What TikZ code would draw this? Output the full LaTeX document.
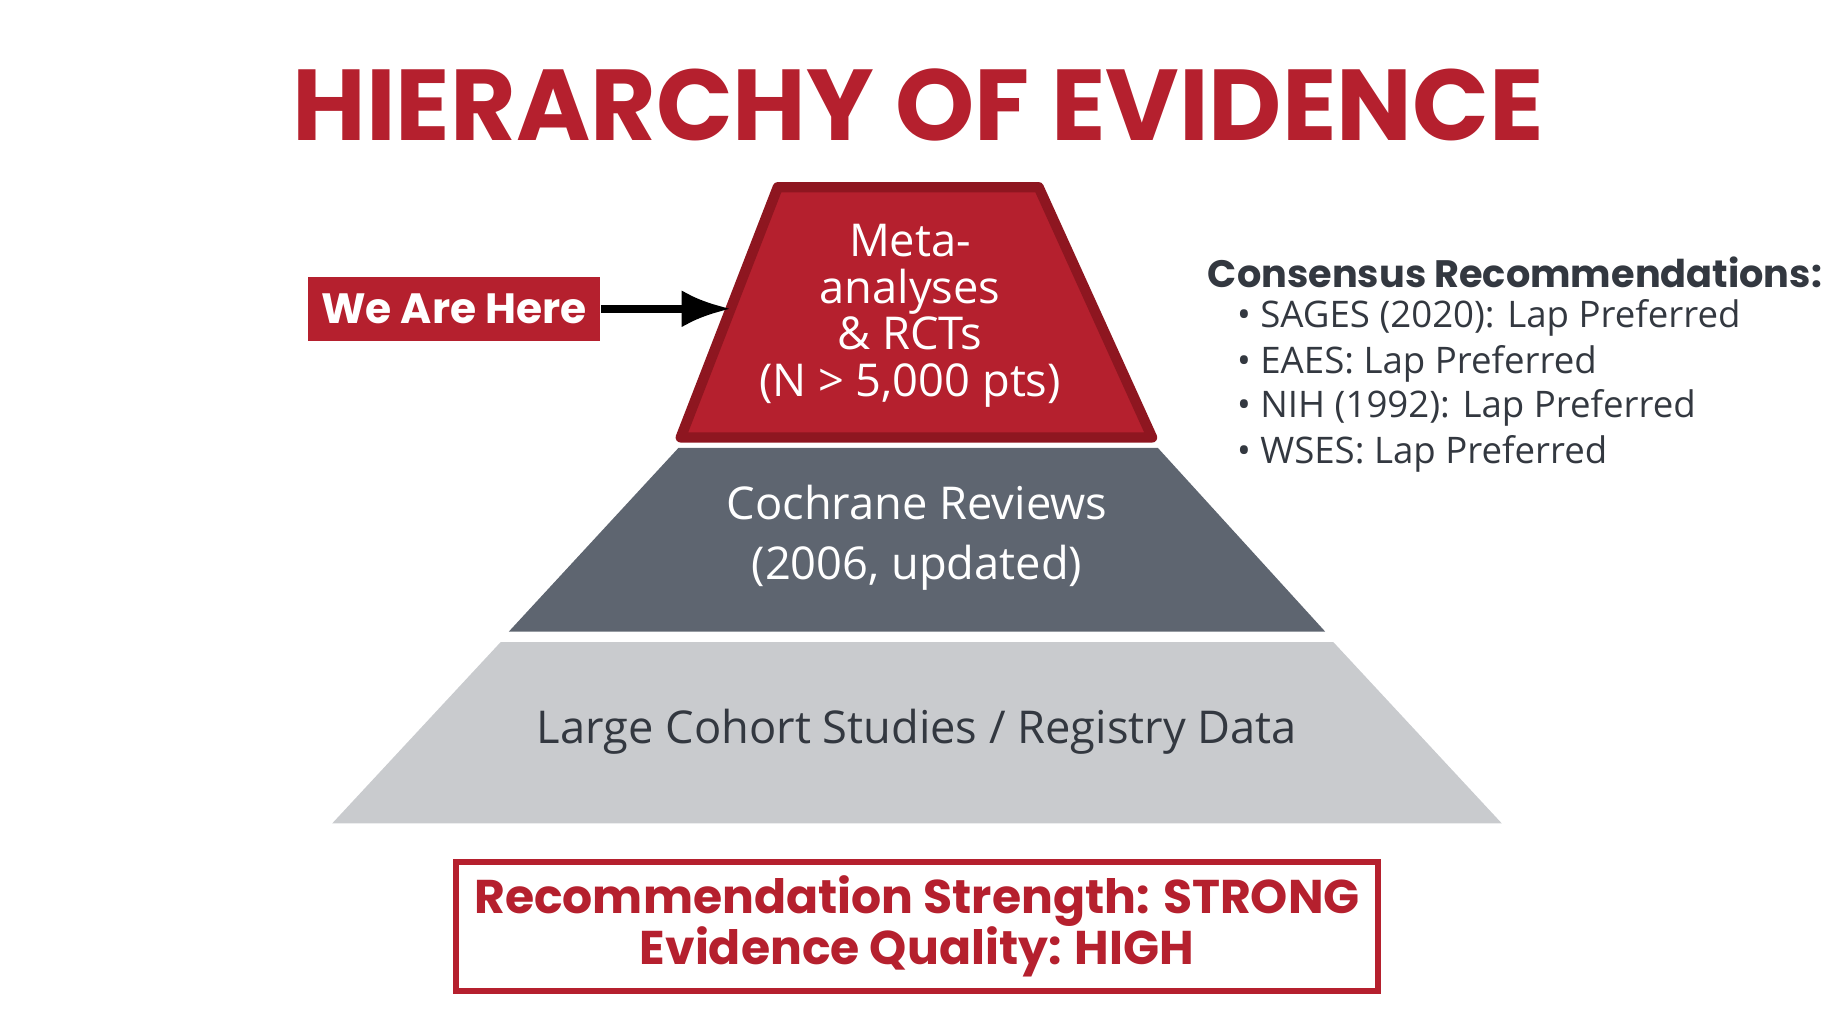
\documentclass[tikz,border=0pt]{standalone}
\usepackage{fontspec}
\setmainfont{Open Sans}
\newfontfamily\headfont{Poppins}
\usetikzlibrary{arrows.meta,positioning}
\definecolor{evred}{HTML}{B5202E}
\definecolor{evdark}{HTML}{8E1620}
\definecolor{evgray}{HTML}{5E6570}
\definecolor{evlight}{HTML}{C9CBCE}
\definecolor{evtext}{HTML}{333840}
\tikzset{>=Latex}
\tikzset{tier/.style = {font=\fontsize{11}{11.4}\selectfont, align=center},
         pill/.style = {fill=evred, text=white, font=\headfont\bfseries\fontsize{10.3}{12}\selectfont, minimum width=2.5cm, minimum height=0.55cm, inner sep=0pt},
         item/.style = {anchor=west, font=\fontsize{8.9}{11}\selectfont, text=evtext, inner sep=0pt}}
\begin{document}
\begin{tikzpicture}[x=0.01cm,y=-0.01cm]
    \useasboundingbox (0,0) rectangle (1568,875);
    \node[font=\headfont\bfseries\fontsize{24.5}{28}\selectfont, text=evred] (title) at (785,90) {HIERARCHY OF EVIDENCE};

    % pyramid
    \fill[evlight] (428,549) -- (1140,549) -- (1284,704) -- (284,704) -- cycle;
    \fill[evgray] (580,383) -- (990,383) -- (1133,540) -- (435,540) -- cycle;
    \filldraw[fill=evred, draw=evdark, line width=2.5pt, line join=round] (665,160) -- (888,160) -- (985,374) -- (582,374) -- cycle;

    \node[tier, text=white] (top) at (778,270) {Meta-\\analyses\\\& RCTs\\(N > 5,000 pts)};
    \node[tier, text=white, font=\fontsize{11}{14.5}\selectfont] (mid) at (784,460) {Cochrane Reviews\\(2006, updated)};
    \node[tier, text=evtext] (low) at (784,626) {Large Cohort Studies / Registry Data};

    \node[pill] (here) at (388,264) {We Are Here};
    \coordinate (tip) at (625,264);
    \draw[->, line width=2pt, black] (here.east) -- (tip);

    % consensus
    \node[anchor=west, inner sep=0pt, font=\headfont\bfseries\fontsize{9.3}{11}\selectfont, text=evtext] (cons) at (1032,233) {Consensus Recommendations:};
    \node[item] (c1) at (1057,272) {\textbullet\ SAGES (2020): Lap Preferred};
    \node[item] (c2) at (1057,311) {\textbullet\ EAES: Lap Preferred};
    \node[item] (c3) at (1057,349) {\textbullet\ NIH (1992): Lap Preferred};
    \node[item] (c4) at (1057,388) {\textbullet\ WSES: Lap Preferred};

    \node[draw=evred, line width=1.5pt, minimum width=7.88cm, minimum height=1.08cm, align=center, text=evred, font=\headfont\bfseries\fontsize{11.5}{12.5}\selectfont] (strength) at (784,792) {Recommendation Strength: STRONG\\Evidence Quality: HIGH};
\end{tikzpicture}
\end{document}
